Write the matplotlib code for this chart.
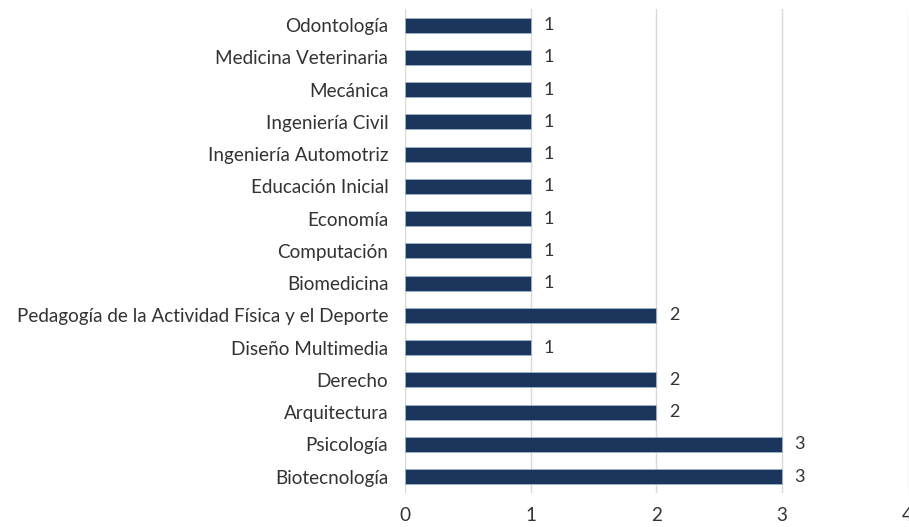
import matplotlib.pyplot as plt
import numpy as np

plt.rcParams['font.family'] = ['Lato', 'DejaVu Sans']

carreras = ['Biotecnología', 'Psicología', 'Arquitectura', 'Derecho',
            'Diseño Multimedia', 'Pedagogía de la Actividad Física y el Deporte',
            'Biomedicina', 'Computación', 'Economía', 'Educación Inicial',
            'Ingeniería Automotriz', 'Ingeniería Civil', 'Mecánica',
            'Medicina Veterinaria', 'Odontología']
valores = [3, 3, 2, 2, 1, 2, 1, 1, 1, 1, 1, 1, 1, 1, 1]

fig = plt.figure(figsize=(9.09, 5.27), dpi=100)
ax = fig.add_axes([0.4455, 0.065, 0.553, 0.918])

y = np.arange(len(carreras))
ax.barh(y, valores, height=0.47, color='#1b365d', edgecolor='#9fb3cc', linewidth=0.6, zorder=3)
for yi, v in zip(y, valores):
    ax.text(v + 0.1, yi, str(v), va='center', ha='left', fontsize=13, color='#333333')

ax.set_yticks(y)
ax.set_yticklabels(carreras, fontsize=13.6, color='#333333')
ax.set_xlim(0, 4)
ax.set_ylim(-0.5, len(carreras) - 0.5)
ax.set_xticks([0, 1, 2, 3, 4])
ax.tick_params(axis='both', length=0, colors='#333333')
ax.tick_params(axis='y', pad=12)
ax.tick_params(axis='x', pad=10, labelsize=13.6)
ax.grid(axis='x', color='#d9d9d9', linewidth=1, zorder=0)
for s in ax.spines.values():
    s.set_visible(False)

fig.savefig('out.png', dpi=100)
